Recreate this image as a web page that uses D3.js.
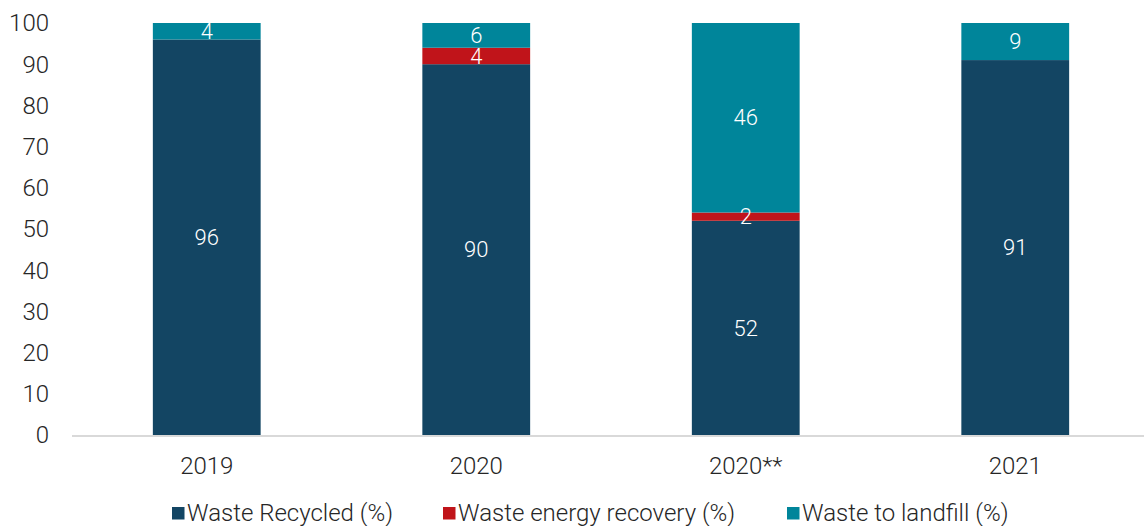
<!DOCTYPE html>
<html>
<head>
<meta charset="utf-8">
<script src="https://cdn.jsdelivr.net/npm/d3@7"></script>
<style>
  html, body { margin: 0; padding: 0; background: #fff; }
  svg { display: block; font-family: Roboto, "Noto Sans", sans-serif; font-weight: 300; }
</style>
</head>
<body>
<svg id="chart" width="1144" height="526"></svg>
<script>
// Waste handling shares by year
const categories = ["2019", "2020", "2020**", "2021"];
const recycled = [96, 90, 52, 91];
const energyRecovery = [0, 4, 2, 0];
const landfill = [4, 6, 46, 9];
const yTicks = [0, 10, 20, 30, 40, 50, 60, 70, 80, 90, 100];

const seriesNames = ["Waste Recycled (%)", "Waste energy recovery (%)", "Waste to landfill (%)"];
const seriesColors = ["#134563", "#c0141a", "#00859a"];

const rows = categories.map((c, i) => ({
  cat: c, s0: recycled[i], s1: energyRecovery[i], s2: landfill[i]
}));

const svg = d3.select("#chart");

const x = d3.scaleBand().domain(categories).range([72, 1150])
  .paddingInner(0.6).paddingOuter(0.3);
const y = d3.scaleLinear().domain([0, 100]).range([435, 23]);

const stack = d3.stack().keys(["s0", "s1", "s2"]);
const layers = stack(rows);

// Y tick labels
svg.append("g").selectAll("text").data(yTicks).join("text")
  .attr("x", 49).attr("y", d => y(d))
  .attr("dy", "0.35em").attr("text-anchor", "end")
  .attr("font-size", 24).attr("fill", "#262626")
  .text(d => d);

// Stacked bars
const g = svg.append("g");
layers.forEach((layer, k) => {
  g.append("g").attr("fill", seriesColors[k])
    .selectAll("rect").data(layer.filter(d => d[1] - d[0] > 0)).join("rect")
    .attr("x", d => x(d.data.cat))
    .attr("width", x.bandwidth())
    .attr("y", d => y(d[1]))
    .attr("height", d => y(d[0]) - y(d[1]));
});

// Segment value labels
layers.forEach((layer, k) => {
  g.append("g").selectAll("text").data(layer.filter(d => d[1] - d[0] > 0)).join("text")
    .attr("x", d => x(d.data.cat) + x.bandwidth() / 2)
    .attr("y", d => (y(d[0]) + y(d[1])) / 2)
    .attr("dy", "0.35em").attr("text-anchor", "middle")
    .attr("font-size", 22).attr("fill", "#fff")
    .text(d => d[1] - d[0]);
});

// Baseline
svg.append("line")
  .attr("x1", 72).attr("x2", 1144)
  .attr("y1", y(0) + 1).attr("y2", y(0) + 1)
  .attr("stroke", "#d9d9d9").attr("stroke-width", 2);

// Category labels
svg.append("g").selectAll("text").data(categories).join("text")
  .attr("x", d => x(d) + x.bandwidth() / 2).attr("y", 466)
  .attr("dy", "0.35em").attr("text-anchor", "middle")
  .attr("font-size", 24).attr("fill", "#262626")
  .text(d => d);

// Legend
const legendX = [172, 443, 787];
const legend = svg.append("g").selectAll("g").data(seriesNames).join("g")
  .attr("transform", (d, i) => `translate(${legendX[i]},513)`);
legend.append("rect").attr("x", 0).attr("y", -6).attr("width", 12.5).attr("height", 12.5)
  .attr("fill", (d, i) => seriesColors[i]);
legend.append("text").attr("x", 15).attr("y", 0).attr("dy", "0.35em")
  .attr("font-size", 24).attr("fill", "#262626")
  .text(d => d);
</script>
</body>
</html>
